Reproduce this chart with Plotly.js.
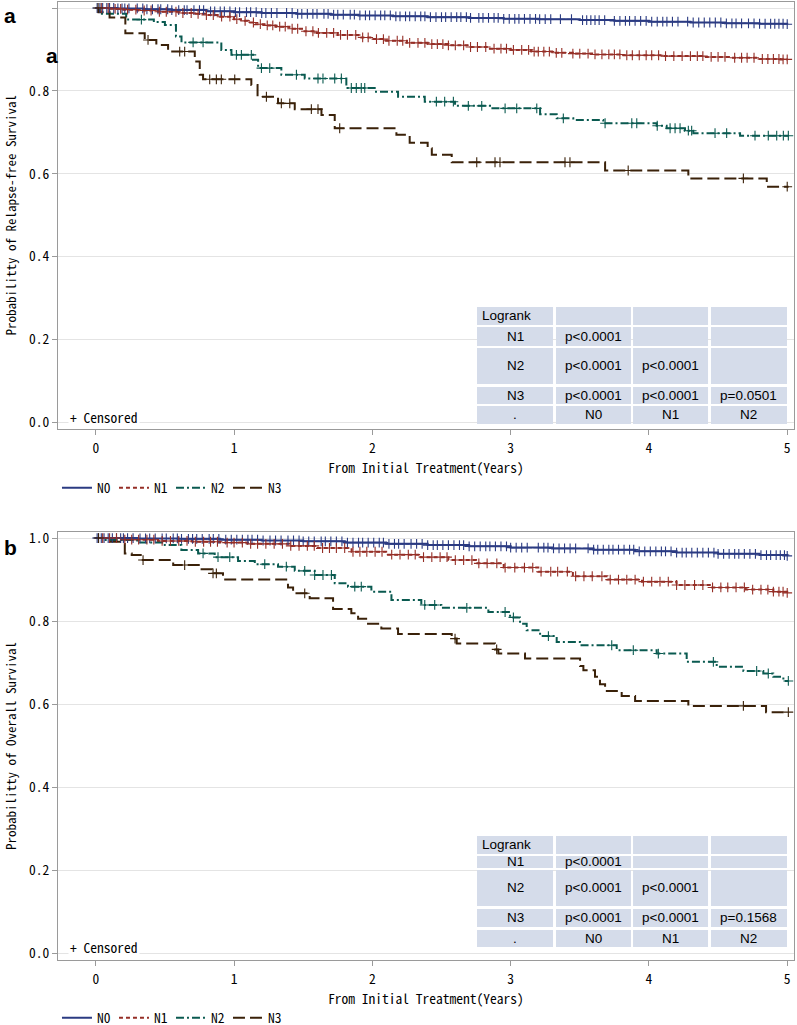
<!DOCTYPE html>
<html><head><meta charset="utf-8">
<script src="https://cdn.plot.ly/plotly-3.0.1.min.js"></script>
<style>html,body{margin:0;padding:0;background:#fff;overflow:hidden}</style>
</head><body><div id="chart" style="width:797px;height:1040px"></div>
<script>
// ---------------- DATA ----------------
const groups = ["N0", "N1", "N2", "N3"];
const xTicks = [0, 1, 2, 3, 4, 5];
const yTicks = [0, 0.2, 0.4, 0.6, 0.8, 1.0];
const xTitle = "From Initial Treatment(Years)";
const yTitleA = "Probabilitty of Relapse-free Survival";
const yTitleB = "Probabilitty of Overall Survival";
const censorLabel = "+ Censored";

// Panel a: relapse-free survival (step times / survival)
const aN0_t = [0, 0.15, 0.35, 0.55, 0.8, 1.0, 1.2, 1.45, 1.7, 1.9, 2.15, 2.4, 2.7, 2.95, 3.2, 3.5, 3.75, 4.0, 4.3, 4.55, 4.8, 5.0];
const aN0_s = [1, 0.999, 0.997, 0.995, 0.992, 0.990, 0.988, 0.986, 0.984, 0.982, 0.980, 0.978, 0.976, 0.974, 0.973, 0.971, 0.969, 0.967, 0.965, 0.963, 0.962, 0.961];
const aN1_t = [0, 0.1, 0.2, 0.3, 0.45, 0.6, 0.7, 0.8, 0.9, 1.0, 1.05, 1.1, 1.15, 1.22, 1.3, 1.4, 1.5, 1.6, 1.75, 1.9, 2.0, 2.1, 2.25, 2.4, 2.55, 2.7, 2.85, 3.0, 3.15, 3.3, 3.45, 3.6, 3.8, 4.1, 4.4, 4.6, 4.8, 4.95, 5.0];
const aN1_s = [1, 0.998, 0.996, 0.994, 0.991, 0.988, 0.986, 0.983, 0.979, 0.973, 0.969, 0.965, 0.961, 0.958, 0.955, 0.950, 0.944, 0.940, 0.935, 0.929, 0.925, 0.921, 0.916, 0.913, 0.910, 0.906, 0.902, 0.899, 0.895, 0.892, 0.890, 0.888, 0.886, 0.884, 0.882, 0.880, 0.877, 0.876, 0.876];
const aN2_t = [0, 0.03, 0.22, 0.42, 0.50, 0.58, 0.62, 0.908, 0.981, 1.137, 1.174, 1.342, 1.511, 1.812, 2.017, 2.186, 2.379, 2.598, 2.851, 3.213, 3.333, 3.453, 3.670, 4.056, 4.128, 4.261, 4.321, 4.659, 5.01];
const aN2_s = [1, 0.986, 0.972, 0.966, 0.959, 0.931, 0.917, 0.899, 0.887, 0.875, 0.855, 0.839, 0.830, 0.807, 0.798, 0.786, 0.774, 0.764, 0.758, 0.744, 0.734, 0.730, 0.722, 0.716, 0.710, 0.704, 0.698, 0.692, 0.692];
const aN3_t = [0, 0.02, 0.10, 0.214, 0.354, 0.438, 0.523, 0.716, 0.752, 0.776, 1.125, 1.17, 1.318, 1.439, 1.632, 1.728, 2.174, 2.27, 2.40, 2.43, 2.574, 3.683, 4.285, 4.852, 5.01];
const aN3_s = [1, 0.990, 0.977, 0.939, 0.923, 0.911, 0.895, 0.871, 0.839, 0.828, 0.814, 0.786, 0.770, 0.756, 0.742, 0.710, 0.694, 0.675, 0.662, 0.646, 0.628, 0.608, 0.589, 0.569, 0.569];

// Panel a censored times
const aN0_c = [0.01,0.03,0.05,0.08,0.1,0.13,0.16,0.19,0.21,0.24,0.3,0.34,0.37,0.41,0.45,0.47,0.52,0.55,0.6,0.64,0.66,0.71,0.75,0.78,0.83,0.86,0.9,0.93,0.97,1.01,1.04,1.09,1.12,1.16,1.2,1.23,1.27,1.31,1.38,1.42,1.46,1.49,1.53,1.57,1.6,1.65,1.68,1.72,1.75,1.79,1.84,1.87,1.91,1.95,1.98,2.02,2.06,2.09,2.13,2.17,2.2,2.24,2.27,2.31,2.35,2.38,2.42,2.46,2.5,2.53,2.57,2.61,2.64,2.68,2.71,2.77,2.8,2.84,2.88,2.91,2.95,2.99,3.03,3.06,3.1,3.14,3.18,3.21,3.25,3.29,3.36,3.44,3.52,3.55,3.58,3.61,3.64,3.68,3.75,3.79,3.83,3.86,3.9,3.94,3.98,4.02,4.06,4.1,4.13,4.17,4.21,4.28,4.32,4.36,4.4,4.44,4.48,4.52,4.56,4.6,4.63,4.67,4.72,4.76,4.8,4.84,4.88,4.91,4.94,4.97,5.0];
const aN1_c = [0.04,0.09,0.14,0.18,0.23,0.29,0.35,0.4,0.46,0.51,0.58,0.63,0.69,0.74,0.8,0.85,0.91,0.97,1.02,1.08,1.14,1.19,1.24,1.28,1.33,1.37,1.42,1.46,1.52,1.57,1.61,1.67,1.72,1.77,1.82,1.88,1.93,1.97,2.03,2.08,2.12,2.18,2.22,2.27,2.33,2.38,2.43,2.47,2.51,2.55,2.6,2.66,2.71,2.76,2.82,2.88,2.93,2.97,3.02,3.08,3.13,3.17,3.2,3.24,3.28,3.33,3.37,3.45,3.5,3.56,3.61,3.66,3.71,3.75,3.79,3.84,3.88,3.93,3.98,4.02,4.07,4.12,4.18,4.24,4.3,4.35,4.39,4.45,4.5,4.55,4.62,4.67,4.71,4.76,4.82,4.86,4.9,4.94,4.97,5.0];
const aN2_c = [0.33,0.704,0.776,1.017,1.053,1.125,1.198,1.258,1.451,1.607,1.643,1.728,1.776,1.848,1.884,1.92,1.945,2.463,2.523,2.586,2.694,2.791,2.96,3.044,3.189,3.381,3.683,3.876,3.912,4.06,4.153,4.189,4.225,4.285,4.309,4.478,4.562,4.767,4.863,4.924,4.972,5.008];
const aN3_c = [0.017,0.378,0.607,0.643,0.824,0.872,0.908,1.005,1.234,1.342,1.403,1.559,1.607,1.764,2.755,2.887,2.923,3.393,3.429,3.85,4.683,5.0];

// Panel b: overall survival
const bN0_t = [0, 0.3, 0.6, 0.9, 1.2, 1.5, 1.8, 2.1, 2.4, 2.7, 3.0, 3.3, 3.6, 3.9, 4.2, 4.5, 4.8, 5.0];
const bN0_s = [1, 0.999, 0.998, 0.996, 0.994, 0.992, 0.989, 0.986, 0.983, 0.980, 0.977, 0.975, 0.972, 0.968, 0.965, 0.962, 0.959, 0.957];
const bN1_t = [0, 0.2, 0.45, 0.7, 0.9, 1.1, 1.4, 1.6, 1.85, 2.1, 2.35, 2.55, 2.75, 2.95, 3.2, 3.45, 3.7, 3.95, 4.2, 4.45, 4.7, 4.9, 5.0];
const bN1_s = [1, 0.996, 0.993, 0.991, 0.989, 0.986, 0.981, 0.976, 0.967, 0.960, 0.954, 0.947, 0.939, 0.929, 0.919, 0.908, 0.900, 0.895, 0.887, 0.881, 0.876, 0.871, 0.868];
const bN2_t = [0, 0.05, 0.3, 0.499, 0.619, 0.74, 0.86, 1.029, 1.15, 1.318, 1.439, 1.583, 1.728, 1.824, 1.993, 2.138, 2.354, 2.499, 2.839, 2.996, 3.068, 3.116, 3.213, 3.333, 3.502, 3.767, 4.056, 4.273, 4.49, 4.683, 4.827, 4.899, 4.972, 5.01];
const bN2_s = [1, 0.995, 0.989, 0.983, 0.971, 0.963, 0.954, 0.945, 0.937, 0.931, 0.921, 0.911, 0.891, 0.883, 0.871, 0.851, 0.839, 0.832, 0.822, 0.809, 0.794, 0.778, 0.764, 0.750, 0.742, 0.730, 0.722, 0.702, 0.690, 0.680, 0.674, 0.666, 0.656, 0.656];
const bN3_t = [0, 0.089, 0.21, 0.26, 0.34, 0.56, 0.755, 0.84, 0.92, 1.39, 1.427, 1.547, 1.716, 1.848, 1.897, 1.969, 2.065, 2.186, 2.574, 2.61, 2.887, 2.911, 3.104, 3.502, 3.526, 3.61, 3.646, 3.683, 3.803, 3.90, 4.285, 4.847, 5.01];
const bN3_s = [1, 0.991, 0.963, 0.959, 0.947, 0.935, 0.925, 0.915, 0.900, 0.881, 0.867, 0.855, 0.829, 0.819, 0.806, 0.794, 0.782, 0.769, 0.758, 0.746, 0.732, 0.722, 0.710, 0.692, 0.682, 0.666, 0.648, 0.632, 0.620, 0.608, 0.596, 0.581, 0.581];

// Panel b censored times
const bN0_c = [0.01,0.02,0.04,0.06,0.09,0.12,0.15,0.18,0.2,0.23,0.27,0.32,0.36,0.39,0.43,0.48,0.51,0.56,0.59,0.62,0.67,0.7,0.73,0.77,0.82,0.85,0.89,0.94,0.98,1.02,1.06,1.1,1.13,1.17,1.21,1.26,1.3,1.34,1.39,1.43,1.47,1.5,1.54,1.58,1.63,1.66,1.7,1.74,1.78,1.82,1.86,1.9,1.93,1.97,2.01,2.05,2.08,2.12,2.16,2.19,2.23,2.28,2.32,2.36,2.4,2.44,2.47,2.51,2.55,2.59,2.63,2.66,2.7,2.74,2.78,2.82,2.85,2.89,2.93,2.97,3.0,3.04,3.08,3.12,3.2,3.24,3.27,3.31,3.35,3.39,3.43,3.47,3.56,3.6,3.63,3.67,3.71,3.74,3.78,3.82,3.86,3.89,3.93,3.97,4.01,4.05,4.09,4.12,4.16,4.2,4.24,4.27,4.31,4.35,4.39,4.43,4.47,4.5,4.54,4.58,4.62,4.65,4.69,4.73,4.77,4.81,4.85,4.88,4.92,4.95,4.98,5.0];
const bN1_c = [0.05,0.1,0.15,0.21,0.26,0.31,0.37,0.42,0.48,0.54,0.6,0.66,0.72,0.78,0.83,0.88,0.95,1.0,1.06,1.12,1.17,1.23,1.29,1.35,1.41,1.47,1.53,1.58,1.64,1.69,1.74,1.8,1.86,1.91,1.96,2.02,2.07,2.14,2.2,2.26,2.31,2.37,2.43,2.49,2.54,2.6,2.66,2.72,2.77,2.83,2.9,2.96,3.03,3.1,3.16,3.22,3.29,3.34,3.41,3.47,3.53,3.59,3.66,3.72,3.78,3.84,3.9,3.96,4.02,4.08,4.14,4.2,4.26,4.33,4.39,4.46,4.52,4.57,4.63,4.69,4.75,4.81,4.86,4.9,4.94,4.97,5.0];
const bN2_c = [0.776,0.884,0.969,1.222,1.378,1.511,1.583,1.643,1.704,1.873,1.92,2.379,2.451,2.683,2.96,3.02,3.273,3.731,3.887,4.068,4.466,4.779,4.863,5.008];
const bN3_c = [0.02,0.342,0.643,0.848,0.872,1.511,2.598,2.899,4.683,5.008];

// Log-rank tables
const tableA = [["Logrank","","",""],["N1","p<0.0001","",""],["N2","p<0.0001","p<0.0001",""],["N3","p<0.0001","p<0.0001","p=0.0501"],[".","N0","N1","N2"]];
const tableB = [["Logrank","","",""],["N1","p<0.0001","",""],["N2","p<0.0001","p<0.0001",""],["N3","p<0.0001","p<0.0001","p=0.1568"],[".","N0","N1","N2"]];

// ---------------- STYLE ----------------
const colors = {N0:"#2b3b82", N1:"#952e26", N2:"#0a5a50", N3:"#3a2109"};
const dashes = {N0:"solid", N1:"4px,3px", N2:"8px,3px,2px,3px", N3:"12px,5px"};
const MONO = '"Noto Sans Mono CJK JP", "DejaVu Sans Mono", monospace';
const SANS = '"Liberation Sans", Arial, sans-serif';
const FS = 13.5;
const H = 1040;   // figure height (bottom 15px fall outside the 1025px window)

function survAt(ts, ss, t) { let v = ss[0]; for (let i = 0; i < ts.length; i++) { if (ts[i] <= t) v = ss[i]; } return v; }
const py = p => (H - p) / (H - 2);   // pixel row -> paper fraction (margin t=2, b=0)

const panels = [
  {ax: "", leg: "legend", ytitle: yTitleA, data: {N0:[aN0_t,aN0_s,aN0_c], N1:[aN1_t,aN1_s,aN1_c], N2:[aN2_t,aN2_s,aN2_c], N3:[aN3_t,aN3_s,aN3_c]}, table: tableA},
  {ax: "2", leg: "legend2", ytitle: yTitleB, data: {N0:[bN0_t,bN0_s,bN0_c], N1:[bN1_t,bN1_s,bN1_c], N2:[bN2_t,bN2_s,bN2_c], N3:[bN3_t,bN3_s,bN3_c]}, table: tableB}
];

const traces = [];
panels.forEach(p => {
  groups.forEach(g => {
    const [t, s, c] = p.data[g];
    traces.push({x: t, y: s, xaxis: "x" + p.ax, yaxis: "y" + p.ax, type: "scatter", mode: "lines",
      line: {shape: "hv", color: colors[g], width: 2, dash: dashes[g]}, name: g, legend: p.leg, hoverinfo: "skip"});
  });
  groups.forEach(g => {
    const [t, s, c] = p.data[g];
    traces.push({x: c, y: c.map(v => survAt(t, s, v)), xaxis: "x" + p.ax, yaxis: "y" + p.ax, type: "scatter", mode: "markers",
      marker: {symbol: "cross-thin", size: 7, line: {width: 1.1, color: colors[g]}, color: colors[g]},
      showlegend: false, hoverinfo: "skip"});
  });
});

// table geometry (fractions of axis domain)
const colEdges = [[0.5693,0.6726],[0.6766,0.7785],[0.7813,0.8832],[0.8872,0.9905]];
const rowEdgesA = [[0.2857,0.2436],[0.2389,0.1944],[0.1897,0.1054],[0.0984,0.0585],[0.0539,0.0117]];
const rowEdgesB = [[0.2897,0.2477],[0.2430,0.2150],[0.2103,0.1262],[0.1192,0.0771],[0.0701,0.0304]];

const shapes = [], annotations = [];
function esc(s) { return s.replace(/</g, "&lt;"); }
panels.forEach((p, pi) => {
  const rows = pi === 0 ? rowEdgesA : rowEdgesB;
  const xr = "x" + p.ax + " domain", yr = "y" + p.ax + " domain";
  p.table.forEach((row, ri) => {
    row.forEach((txt, ci) => {
      const [x0, x1] = colEdges[ci]; const [y1, y0] = rows[ri];
      shapes.push({type: "rect", xref: xr, yref: yr, x0, x1, y0, y1, fillcolor: "#d5dcea", line: {width: 0}, layer: "above"});
      if (txt) {
        const left = (ri === 0 && ci === 0);
        annotations.push({xref: xr, yref: yr, x: left ? x0 + 0.004 : (x0 + x1) / 2, y: (y0 + y1) / 2,
          xanchor: left ? "left" : "center", yanchor: "middle", text: esc(txt), showarrow: false,
          font: {family: SANS, size: 13.5, color: "#000"}});
      }
    });
  });
  annotations.push({xref: xr, yref: yr, x: 0.014, y: pi === 0 ? 0.028 : 0.030, xanchor: "left", yanchor: "middle",
    text: censorLabel, showarrow: false, bgcolor: "#fff", font: {family: MONO, size: FS, color: "#000"}});
  annotations.push({xref: "paper", yref: "y" + p.ax + " domain", x: -0.0652, y: 0.5, xanchor: "center", yanchor: "middle",
    textangle: -90, text: p.ytitle, showarrow: false, font: {family: MONO, size: 13, color: "#000"}});
});
const lab = (t, x, y) => ({xref: "paper", yref: "paper", x, y, xanchor: "center", yanchor: "middle", text: t, showarrow: false,
  font: {family: SANS, size: 21, color: "#000", weight: "bold"}});
annotations.push(lab("a", -0.0652, py(15)));
annotations.push(lab("a", -0.0082, py(55)));
annotations.push(lab("b", -0.0652, py(547)));

function xAxis(anchor) {
  return {domain: [0, 1], range: [-0.273, 5.049], anchor: anchor, tickvals: xTicks, ticks: "outside", ticklen: 5, tickcolor: "#9a9a9a",
    showline: true, mirror: true, linecolor: "#9a9a9a", linewidth: 1, showgrid: false, zeroline: false, ticklabelstandoff: 2,
    tickfont: {family: MONO, size: FS, color: "#000"},
    title: {text: xTitle, font: {family: MONO, size: FS, color: "#000"}, standoff: 3}};
}
function yAxis(anchor, dom) {
  return {domain: dom, range: [-0.0155, 1.0145], anchor: anchor, tickvals: yTicks, tickformat: ".1f", ticks: "outside", ticklen: 5, tickcolor: "#9a9a9a",
    showline: true, mirror: true, linecolor: "#9a9a9a", linewidth: 1, showgrid: true, gridcolor: "#e4e4e4", zeroline: false,
    tickfont: {family: MONO, size: FS, color: "#000"}};
}

const legendBase = {orientation: "h", xanchor: "left", yanchor: "middle", x: -0.0014, font: {family: MONO, size: FS, color: "#000"},
  bgcolor: "rgba(0,0,0,0)", entrywidth: 12, itemwidth: 30, traceorder: "normal"};

const layout = {
  width: 797, height: H, margin: {l: 58, r: 3, t: 2, b: 0},
  paper_bgcolor: "#fff", plot_bgcolor: "#fff", showlegend: true,
  xaxis: xAxis("y"), yaxis: yAxis("x", [py(429), 1]),
  xaxis2: xAxis("y2"), yaxis2: yAxis("x2", [py(960), py(532)]),
  legend: Object.assign({}, legendBase, {y: py(488)}),
  legend2: Object.assign({}, legendBase, {y: py(1018)}),
  shapes, annotations
};

Plotly.newPlot("chart", traces, layout, {staticPlot: true, displayModeBar: false});
</script></body></html>
